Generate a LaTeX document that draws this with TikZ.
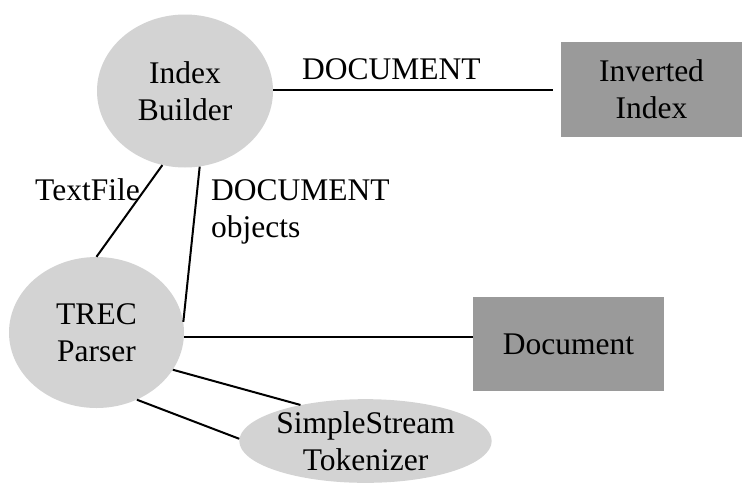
\documentclass[tikz,border=0pt]{standalone}
\usepackage{fontspec}
\setmainfont{Liberation Serif}
\usetikzlibrary{shapes.geometric}
\definecolor{ovalgray}{HTML}{D3D3D3}
\definecolor{boxgray}{HTML}{9A9A9A}
\tikzset{
  txt/.style={font=\fontsize{31.5}{37}\selectfont},
  oval/.style={ellipse, fill=ovalgray, inner sep=0pt, align=center, txt},
  store/.style={rectangle, fill=boxgray, inner sep=0pt, align=center, txt},
  link/.style={line width=2pt, black},
  lbl/.style={anchor=base west, inner sep=0pt, align=left, txt}
}
\begin{document}
\begin{tikzpicture}[x=1pt, y=-1pt]
  \useasboundingbox (0,0) rectangle (743,485);

  % components
  \node[oval, minimum width=176pt, minimum height=153pt] (ib) at (185,91) {Index\\Builder};
  \node[oval, minimum width=175pt, minimum height=151pt] (tp) at (96.5,332.5) {TREC\\Parser};
  \node[oval, minimum width=235pt, minimum height=82pt] (st) at (365.5,441) {SimpleStream\\Tokenizer};
  \node[store, minimum width=181pt, minimum height=95pt] (ii) at (651.5,89.5) {Inverted\\Index};
  \node[store, minimum width=191pt, minimum height=94pt] (doc) at (568.5,344) {Document};

  % connectors
  \draw[link, shorten >=8pt] (ib.east |- ii.west) -- (ii.west);
  \draw[link] (ib.253) -- (tp.90);
  \draw[link] (ib.281.7) -- (tp.7.4);
  \draw[link] (tp.-3) -- (tp.-3 -| doc.west);
  \draw[link] (tp.-26.1) -- (st.151);
  \draw[link] (tp.-59.4) -- (st.179);

  % connector labels
  \node[lbl] (l1) at (302,79) {DOCUMENT};
  \node[lbl] (l2) at (35,200) {TextFile};
  \node[lbl] (l3) at (211,237) {DOCUMENT\\objects};
\end{tikzpicture}
\end{document}
